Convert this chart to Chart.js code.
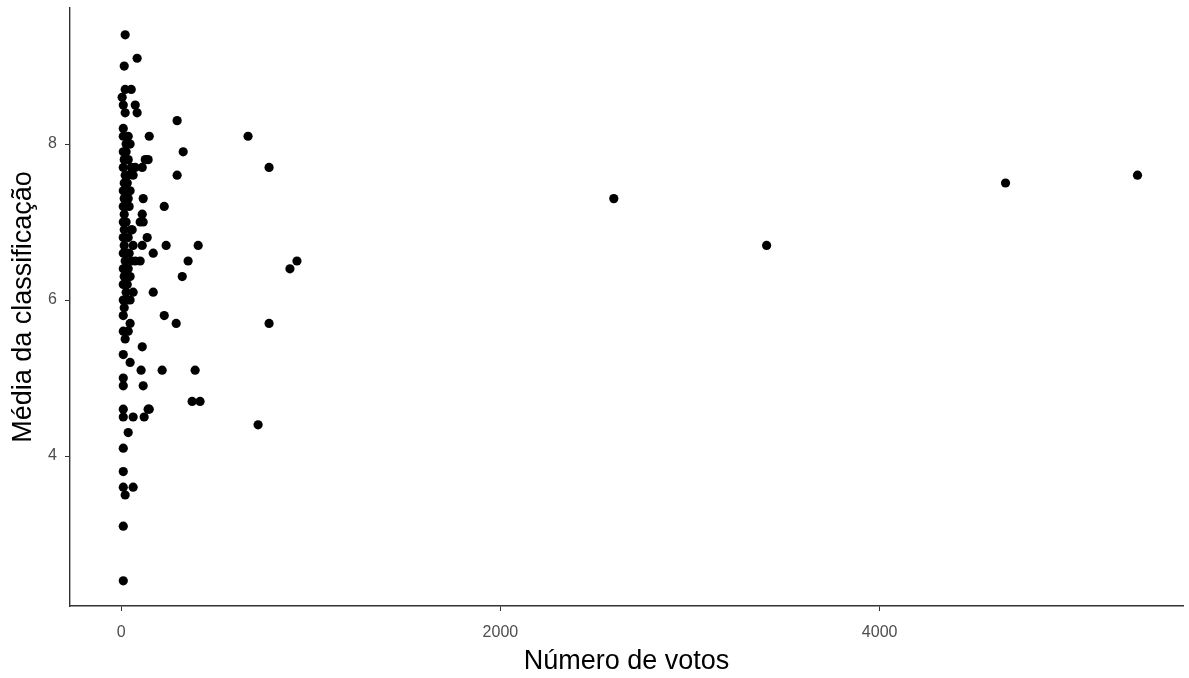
<!DOCTYPE html>
<html>
<head>
<meta charset="utf-8">
<script src="https://cdn.jsdelivr.net/npm/chart.js@4.4.1/dist/chart.umd.min.js"></script>
<style>
  html, body { margin: 0; padding: 0; background: #ffffff; }
  #wrap { width: 1189px; height: 678px; position: relative; }
</style>
</head>
<body>
<div id="wrap"><canvas id="c" width="1189" height="678"></canvas></div>
<script>
// Número de votos por filme e a respetiva média da classificação
const votos = [
  21, 84, 16, 21, 53, 5, 11, 74, 21, 84, 11, 11, 37, 26, 47, 11, 16, 37,
  11, 53, 74, 21, 37, 16, 11, 26, 16, 11, 21, 16, 11, 53, 11, 37, 16, 63,
  11, 26, 21, 53, 74, 11, 37, 16, 11, 26, 63, 11, 32, 16, 11, 47, 11, 37,
  21, 11, 47, 11, 11, 11, 11, 63, 37, 11, 11, 11, 63, 21, 11, 11,
  26, 32, 37, 26, 16, 42, 21, 47, 32, 47, 63, 42, 47,
  148, 127, 142, 111, 116, 111, 116, 100, 58, 137, 111, 169, 100, 111, 105,
  116, 148, 121,
  295, 327, 295, 227, 406, 237, 353, 322, 169, 227, 290, 216, 390, 374, 416,
  142, 669, 780, 927, 890, 780, 722, 2598, 3404, 4664, 5360
];
const media = [
  9.4, 9.1, 9.0, 8.7, 8.7, 8.6, 8.5, 8.5, 8.4, 8.4, 8.2, 8.1, 8.1, 8.0, 8.0, 7.9, 7.8, 7.8,
  7.7, 7.7, 7.7, 7.6, 7.6, 7.5, 7.4, 7.4, 7.3, 7.2, 7.2, 7.1, 7.0, 6.9, 6.8, 6.8, 6.7, 6.7,
  6.6, 6.6, 6.5, 6.5, 6.5, 6.4, 6.4, 6.3, 6.2, 6.1, 6.1, 6.0, 6.0, 5.9, 5.8, 5.7, 5.6, 5.6,
  5.5, 5.3, 5.2, 5.0, 4.9, 4.6, 4.5, 4.5, 4.3, 4.1, 3.8, 3.6, 3.6, 3.5, 3.1, 2.4,
  7.9, 7.5, 7.3, 7.0, 6.9, 6.6, 6.4, 6.3, 6.2, 6.0, 7.6, 7.2, 7.4,
  8.1, 7.8, 7.8, 7.7, 7.3, 7.1, 7.0, 7.0, 6.9, 6.8, 6.7, 6.6, 6.5, 5.4, 5.1,
  4.9, 4.6, 4.5,
  8.3, 7.9, 7.6, 7.2, 6.7, 6.7, 6.5, 6.3, 6.1, 5.8, 5.7, 5.1, 5.1, 4.7, 4.7,
  4.6, 8.1, 7.7, 6.5, 6.4, 5.7, 4.4, 7.3, 6.7, 7.5, 7.6
];
const ticksX = [0, 2000, 4000];
const ticksY = [4, 6, 8];

const pontos = votos.map((v, i) => ({ x: v, y: media[i] }));

const axisColor = '#333333';
const tickFont = { family: 'Liberation Sans, Arial, sans-serif', size: 16 };
const titleFont = { family: 'Liberation Sans, Arial, sans-serif', size: 27 };

new Chart(document.getElementById('c'), {
  type: 'scatter',
  data: {
    datasets: [{
      data: pontos,
      backgroundColor: '#000000',
      borderWidth: 0,
      pointRadius: 4.6,
      pointHoverRadius: 4.6
    }]
  },
  options: {
    responsive: false,
    animation: false,
    events: [],
    layout: { padding: { top: 8, right: 6, left: 0, bottom: 0 } },
    plugins: { legend: { display: false }, tooltip: { enabled: false } },
    scales: {
      x: {
        type: 'linear',
        min: -270,
        max: 5600,
        afterBuildTicks: s => { s.ticks = ticksX.map(v => ({ value: v })); },
        afterFit: s => { s.height = 72; s.paddingLeft = 0; s.paddingRight = 0; },
        grid: { drawOnChartArea: false, drawTicks: true, tickLength: 5, color: axisColor, lineWidth: 1 },
        border: { display: true, color: axisColor, width: 1.4 },
        ticks: { color: '#4d4d4d', font: tickFont, padding: 12, maxRotation: 0, callback: v => String(v) },
        title: { display: true, text: 'Número de votos', color: '#000000', font: titleFont, padding: { top: 0, bottom: 0 } }
      },
      y: {
        type: 'linear',
        min: 2.077,
        max: 9.744,
        afterBuildTicks: s => { s.ticks = ticksY.map(v => ({ value: v })); },
        afterFit: s => { s.width = 70; s.paddingTop = 0; s.paddingBottom = 0; },
        grid: { drawOnChartArea: false, drawTicks: true, tickLength: 5, color: axisColor, lineWidth: 1 },
        border: { display: true, color: axisColor, width: 1.4 },
        ticks: { color: '#4d4d4d', font: tickFont, padding: 8, callback: v => String(v) },
        title: { display: true, text: 'Média da classificação', color: '#000000', font: titleFont, padding: { top: 7, bottom: 0 } }
      }
    }
  }
});
</script>
</body>
</html>
